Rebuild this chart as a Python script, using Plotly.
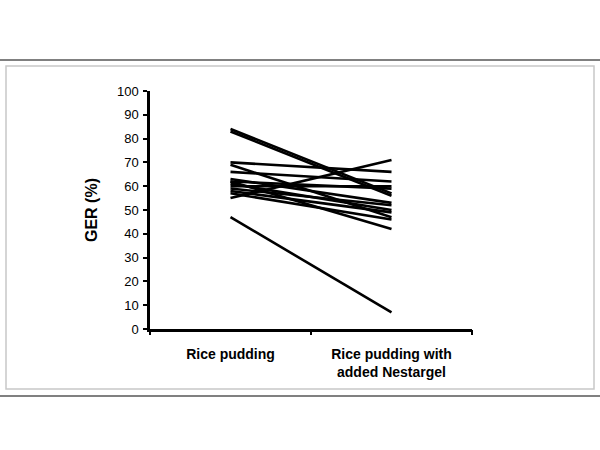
"""GER before/after paired lines: rice pudding vs rice pudding with added Nestargel."""

import plotly.graph_objects as go

categories = ["Rice pudding", "Rice pudding with<br>added Nestargel"]
ger_rice_pudding = [84, 83, 70, 69, 66, 63, 62, 62, 61, 60, 59, 58, 57, 55, 47]
ger_with_nestargel = [57, 56, 66, 47, 62, 53, 59, 42, 50, 60, 52, 49, 46, 71, 7]
y_ticks = list(range(0, 101, 10))

# pixel geometry of the plot area (600x450 page)
L, R, T, B = 150, 472, 91, 329
W, H = 600, 450


def px_x(px):
    return (px - L) / (R - L)


def px_y(py):
    return (B - py) / (B - T)


fig = go.Figure()
for before, after in zip(ger_rice_pudding, ger_with_nestargel):
    fig.add_trace(go.Scatter(
        x=[0, 1], y=[before, after],
        mode="lines", line=dict(color="black", width=2.6),
        showlegend=False, hoverinfo="y",
    ))

# invisible trace so the divider-tick axis exists
fig.add_trace(go.Scatter(x=[0], y=[0], xaxis="x2", mode="none", showlegend=False, hoverinfo="skip"))

font = "Liberation Sans, Arial, sans-serif"
fig.update_layout(
    width=W, height=H,
    margin=dict(l=L, r=W - R, t=T, b=H - B),
    paper_bgcolor="white", plot_bgcolor="white",
    font=dict(family=font, color="black"),
    xaxis=dict(
        range=[-0.5, 1.5], tickvals=[0, 1], ticktext=categories,
        ticks="", showgrid=False, zeroline=False,
        showline=True, linecolor="black", linewidth=2.5,
        tickfont=dict(size=14, family=font, weight="bold"),
        ticklabelstandoff=10,
    ),
    xaxis2=dict(
        overlaying="x", side="bottom", range=[-0.5, 1.5],
        tickvals=[-0.5, 0.5, 1.5], showticklabels=False,
        ticks="outside", ticklen=5, tickwidth=2, tickcolor="black",
        showgrid=False, zeroline=False, showline=False,
    ),
    yaxis=dict(
        range=[0, 100], tickvals=y_ticks,
        ticks="outside", ticklen=4, tickwidth=2, tickcolor="black",
        showgrid=False, zeroline=False,
        showline=True, linecolor="black", linewidth=2.5,
        tickfont=dict(size=13, family=font),
        ticklabelstandoff=2,
        title=dict(text="GER (%)", font=dict(size=16, family=font, weight="bold"), standoff=16),
    ),
    shapes=[
        dict(type="line", xref="paper", yref="paper",
             x0=px_x(0), x1=px_x(600), y0=px_y(60), y1=px_y(60),
             line=dict(color="#808080", width=2)),
        dict(type="rect", xref="paper", yref="paper",
             x0=px_x(6), x1=px_x(594), y0=px_y(389), y1=px_y(66),
             line=dict(color="#c8c8c8", width=1.5), layer="below"),
        dict(type="line", xref="paper", yref="paper",
             x0=px_x(0), x1=px_x(600), y0=px_y(396), y1=px_y(396),
             line=dict(color="#808080", width=2)),
    ],
)

fig.write_html("out.html", config={"displayModeBar": False},
               post_script="document.body.style.margin='0';")
